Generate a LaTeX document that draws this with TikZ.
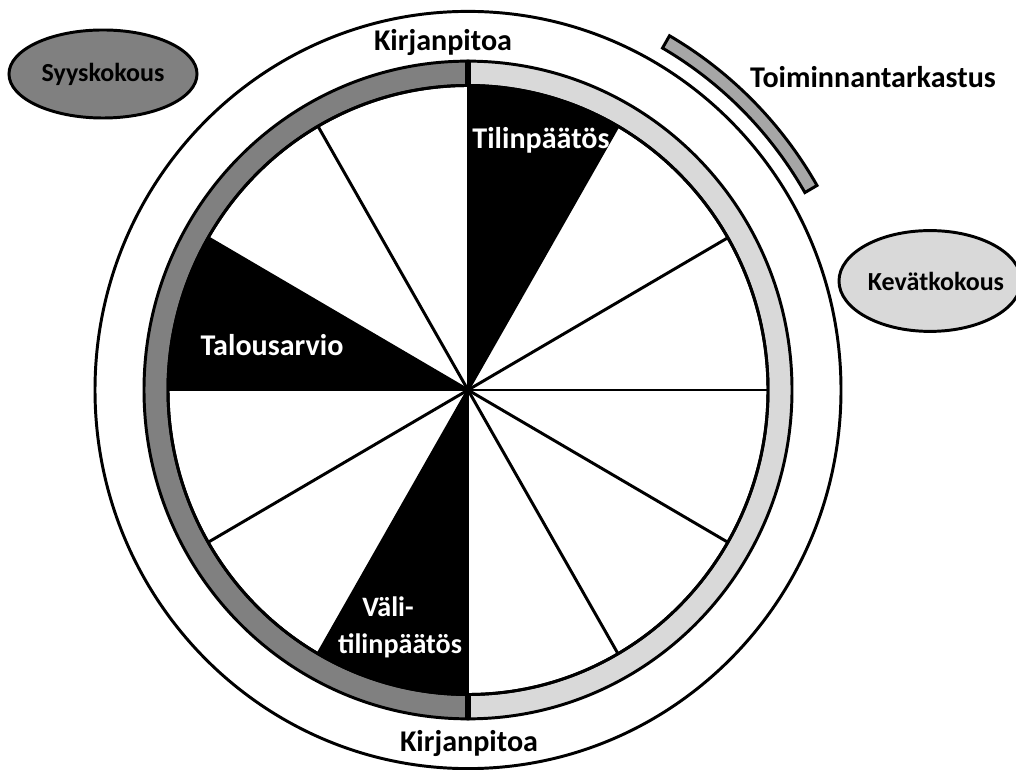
\documentclass[tikz,border=0pt]{standalone}
\usepackage{fontspec}
\setmainfont{Carlito}
\usetikzlibrary{shapes.geometric}
\definecolor{tumma}{HTML}{808080}
\definecolor{vaalea}{HTML}{D9D9D9}
\definecolor{keski}{HTML}{A6A6A6}
\newcommand{\sektori}[2]{\fill (0,0) -- (#1:300) arc (#1:#2:300) -- cycle}
\newcommand{\puola}[1]{\draw[paksu] (0,0) -- (#1:300)}
\newcommand{\puolikas}[3]{\filldraw[paksu, fill=#3] (#1:324) arc (#1:#2:324)
	-- (#2:300) arc (#2:#1:300) -- cycle}
\tikzset{
	paksu/.style = {line width=2.1pt},
	otsikko/.style = {font=\bfseries\fontsize{21.4}{26.3}\selectfont},
	valkea/.style = {otsikko, text=white, align=center},
	kokous/.style = {ellipse, draw, paksu, inner sep=0pt,
		font=\bfseries\fontsize{18.5}{22}\selectfont},
}

\begin{document}
\begin{tikzpicture}[x = 0.025cm, y = 0.025cm]
	\useasboundingbox (0,0) rectangle (1016,769);
\begin{scope}[shift={(468,379)}, yscale=1.015]
%Outer circle
	\draw[paksu] (0,0) circle (373);
%The ring
	\puolikas{90}{270}{tumma};
	\puolikas{-90}{90}{vaalea};
	\draw[line width=3.6pt] (90:300) -- (90:324);
	\draw[line width=3.6pt] (270:300) -- (270:324);
%Black sectors
	\sektori{60}{90};
	\sektori{150}{180};
	\sektori{240}{270};
%Spokes
	\foreach \a in {0,30,...,330} {\puola{\a};}
	\draw[paksu] (0,0) circle (300);
%Audit band
	\filldraw[paksu, fill=keski] (30:389) arc (30:60:389)
		-- (60:403) arc (60:30:403) -- cycle;
\end{scope}
%Labels
	\node[otsikko] (ylakirja) at (443,727) {Kirjanpitoa};
	\node[otsikko] (alakirja) at (469,26) {Kirjanpitoa};
	\node[otsikko] (tarkastus) at (873,692) {Toiminnantarkastus};
	\node[valkea] (tilinpaatos) at (541,629) {Tilinpäätös};
	\node[valkea] (talousarvio) at (272,424) {Talousarvio};
	\node[valkea, font=\bfseries\fontsize{20}{26.3}\selectfont]
		(valitilin) at (400,142) {Väli-\hspace*{0.6cm}\\tilinpäätös};
%Meetings
	\node[kokous, fill=tumma, minimum width=4.7cm, minimum height=2.2cm]
		(syys) at (103,695) {Syyskokous};
	\node[kokous, fill=vaalea, inner xsep=-0.3cm, minimum width=4.55cm, minimum height=2.52cm]
		(kevat) at (930,488) {\hspace*{0.3cm}Kevätkokous};
\end{tikzpicture}
\end{document}
